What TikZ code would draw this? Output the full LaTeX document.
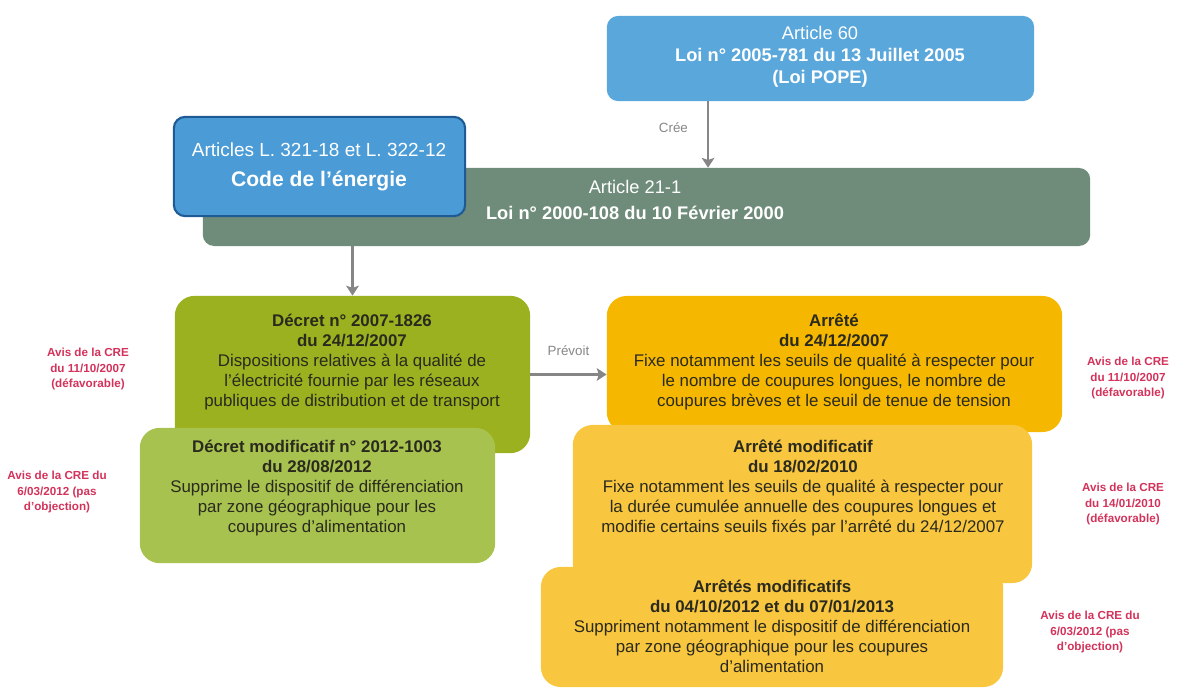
\documentclass[tikz,border=0pt]{standalone}
\usepackage{fontspec}
\setmainfont{Liberation Sans}
\usetikzlibrary{positioning,arrows.meta}
\definecolor{popeblue}{HTML}{5AA7DC}
\definecolor{codeblue}{HTML}{4A9BD6}
\definecolor{codeborder}{HTML}{1E5B94}
\definecolor{loigray}{HTML}{6F8C7B}
\definecolor{decretgreen}{HTML}{9CB11F}
\definecolor{modifgreen}{HTML}{A8C24F}
\definecolor{arreteorange}{HTML}{F5B700}
\definecolor{modifyellow}{HTML}{F8C63F}
\definecolor{avisred}{HTML}{D3325A}
\definecolor{arrowgray}{HTML}{868686}
\definecolor{darktext}{HTML}{2A2A1E}
\tikzset{
  box/.style={rounded corners=8pt, inner sep=0pt},
  lowbox/.style={rounded corners=14pt, inner sep=0pt},
  bigtxt/.style={align=center, inner sep=0pt, text=white, font=\fontsize{13}{15.5}\selectfont},
  bodytxt/.style={align=center, inner sep=0pt, text=darktext, font=\fontsize{12}{14.2}\selectfont},
  avis/.style={align=center, inner sep=0pt, text=avisred, font=\fontsize{8.3}{11.3}\selectfont\bfseries},
  arr/.style={->, draw=arrowgray, line width=2pt},
  arrlbl/.style={text=arrowgray, font=\fontsize{9.5}{11}\selectfont}
}
\begin{document}
\begin{tikzpicture}[>={Stealth[length=7pt,width=9pt,inset=1.5pt]}, x=0.025cm, y=-0.025cm]
\useasboundingbox (0,0) rectangle (1192,688);
% loi POPE
\node[box, fill=popeblue, minimum width=10.68cm, minimum height=2.13cm] (pope) at (820.5,58.5) {};
\node[bigtxt] (pope-t) at (820,57) {Article 60\\\textbf{Loi n° 2005-781 du 13 Juillet 2005}\\\textbf{(Loi POPE)}};
% loi 2000 + code de l'energie
\node[box, fill=loigray, minimum width=22.18cm, minimum height=1.95cm] (loi) at (646.5,207) {};
\node[bigtxt] (loi-t) at (635,200) {Article 21-1\\[3pt]\textbf{Loi n° 2000-108 du 10 Février 2000}};
\node[box, fill=codeblue, draw=codeborder, line width=1.5pt, minimum width=7.28cm, minimum height=2.48cm] (code) at (319.5,166.5) {};
\node[bigtxt, font=\fontsize{13.5}{16}\selectfont] (code-t) at (319,167) {Articles L. 321-18 et L. 322-12\\[5pt]{\fontsize{15}{18}\selectfont\bfseries Code de l’énergie}};
% decrets
\node[lowbox, fill=decretgreen, minimum width=8.88cm, minimum height=3.93cm] (decret) at (352.5,374.5) {};
\node[bodytxt] (decret-t) at (352,362) {\textbf{Décret n° 2007-1826}\\\textbf{du 24/12/2007}\\Dispositions relatives à la qualité de\\l’électricité fournie par les réseaux\\publiques de distribution et de transport};
\node[lowbox, fill=modifgreen, minimum width=8.88cm, minimum height=3.38cm] (decmod) at (317.5,495.5) {};
\node[bodytxt] (decmod-t) at (317,488) {\textbf{Décret modificatif n° 2012-1003}\\\textbf{du 28/08/2012}\\Supprime le dispositif de différenciation\\par zone géographique pour les\\coupures d’alimentation};
% arretes
\node[lowbox, fill=arreteorange, minimum width=11.38cm, minimum height=3.4cm] (arrete) at (834.5,364) {};
\node[bodytxt] (arrete-t) at (834,362) {\textbf{Arrêté}\\\textbf{du 24/12/2007}\\Fixe notamment les seuils de qualité à respecter pour\\le nombre de coupures longues, le nombre de\\coupures brèves et le seuil de tenue de tension};
\node[lowbox, fill=modifyellow, minimum width=11.48cm, minimum height=3.95cm] (arrmod) at (802.5,504) {};
\node[bodytxt] (arrmod-t) at (803,488) {\textbf{Arrêté modificatif}\\\textbf{du 18/02/2010}\\Fixe notamment les seuils de qualité à respecter pour\\la durée cumulée annuelle des coupures longues et\\modifie certains seuils fixés par l’arrêté du 24/12/2007};
\node[lowbox, fill=modifyellow, minimum width=11.55cm, minimum height=3cm] (arrmods) at (772,627) {};
\node[bodytxt] (arrmods-t) at (772,626) {\textbf{Arrêtés modificatifs}\\\textbf{du 04/10/2012 et du 07/01/2013}\\Suppriment notamment le dispositif de différenciation\\par zone géographique pour les coupures\\d’alimentation};
% fleches
\draw[arr] ([xshift=-2.81cm]pope.south) -- ([xshift=-2.81cm]pope.south |- loi.north) node[pos=0.4, left=10pt, arrlbl] (cree) {Crée};
\draw[arr] (decret.north |- loi.south) -- (decret.north);
\draw[arr] (decret.east) -- (decret.east -| arrete.west) node[midway, above=9pt, arrlbl] (prevoit) {Prévoit};
% avis de la CRE
\node[avis] (avis1) at (88,369) {Avis de la CRE\\du 11/10/2007\\(défavorable)};
\node[avis] (avis2) at (57,492) {Avis de la CRE du\\6/03/2012 (pas\\d’objection)};
\node[avis] (avis3) at (1128,378) {Avis de la CRE\\du 11/10/2007\\(défavorable)};
\node[avis] (avis4) at (1123,504) {Avis de la CRE\\du 14/01/2010\\(défavorable)};
\node[avis] (avis5) at (1090,632) {Avis de la CRE du\\6/03/2012 (pas\\d’objection)};
\end{tikzpicture}
\end{document}
